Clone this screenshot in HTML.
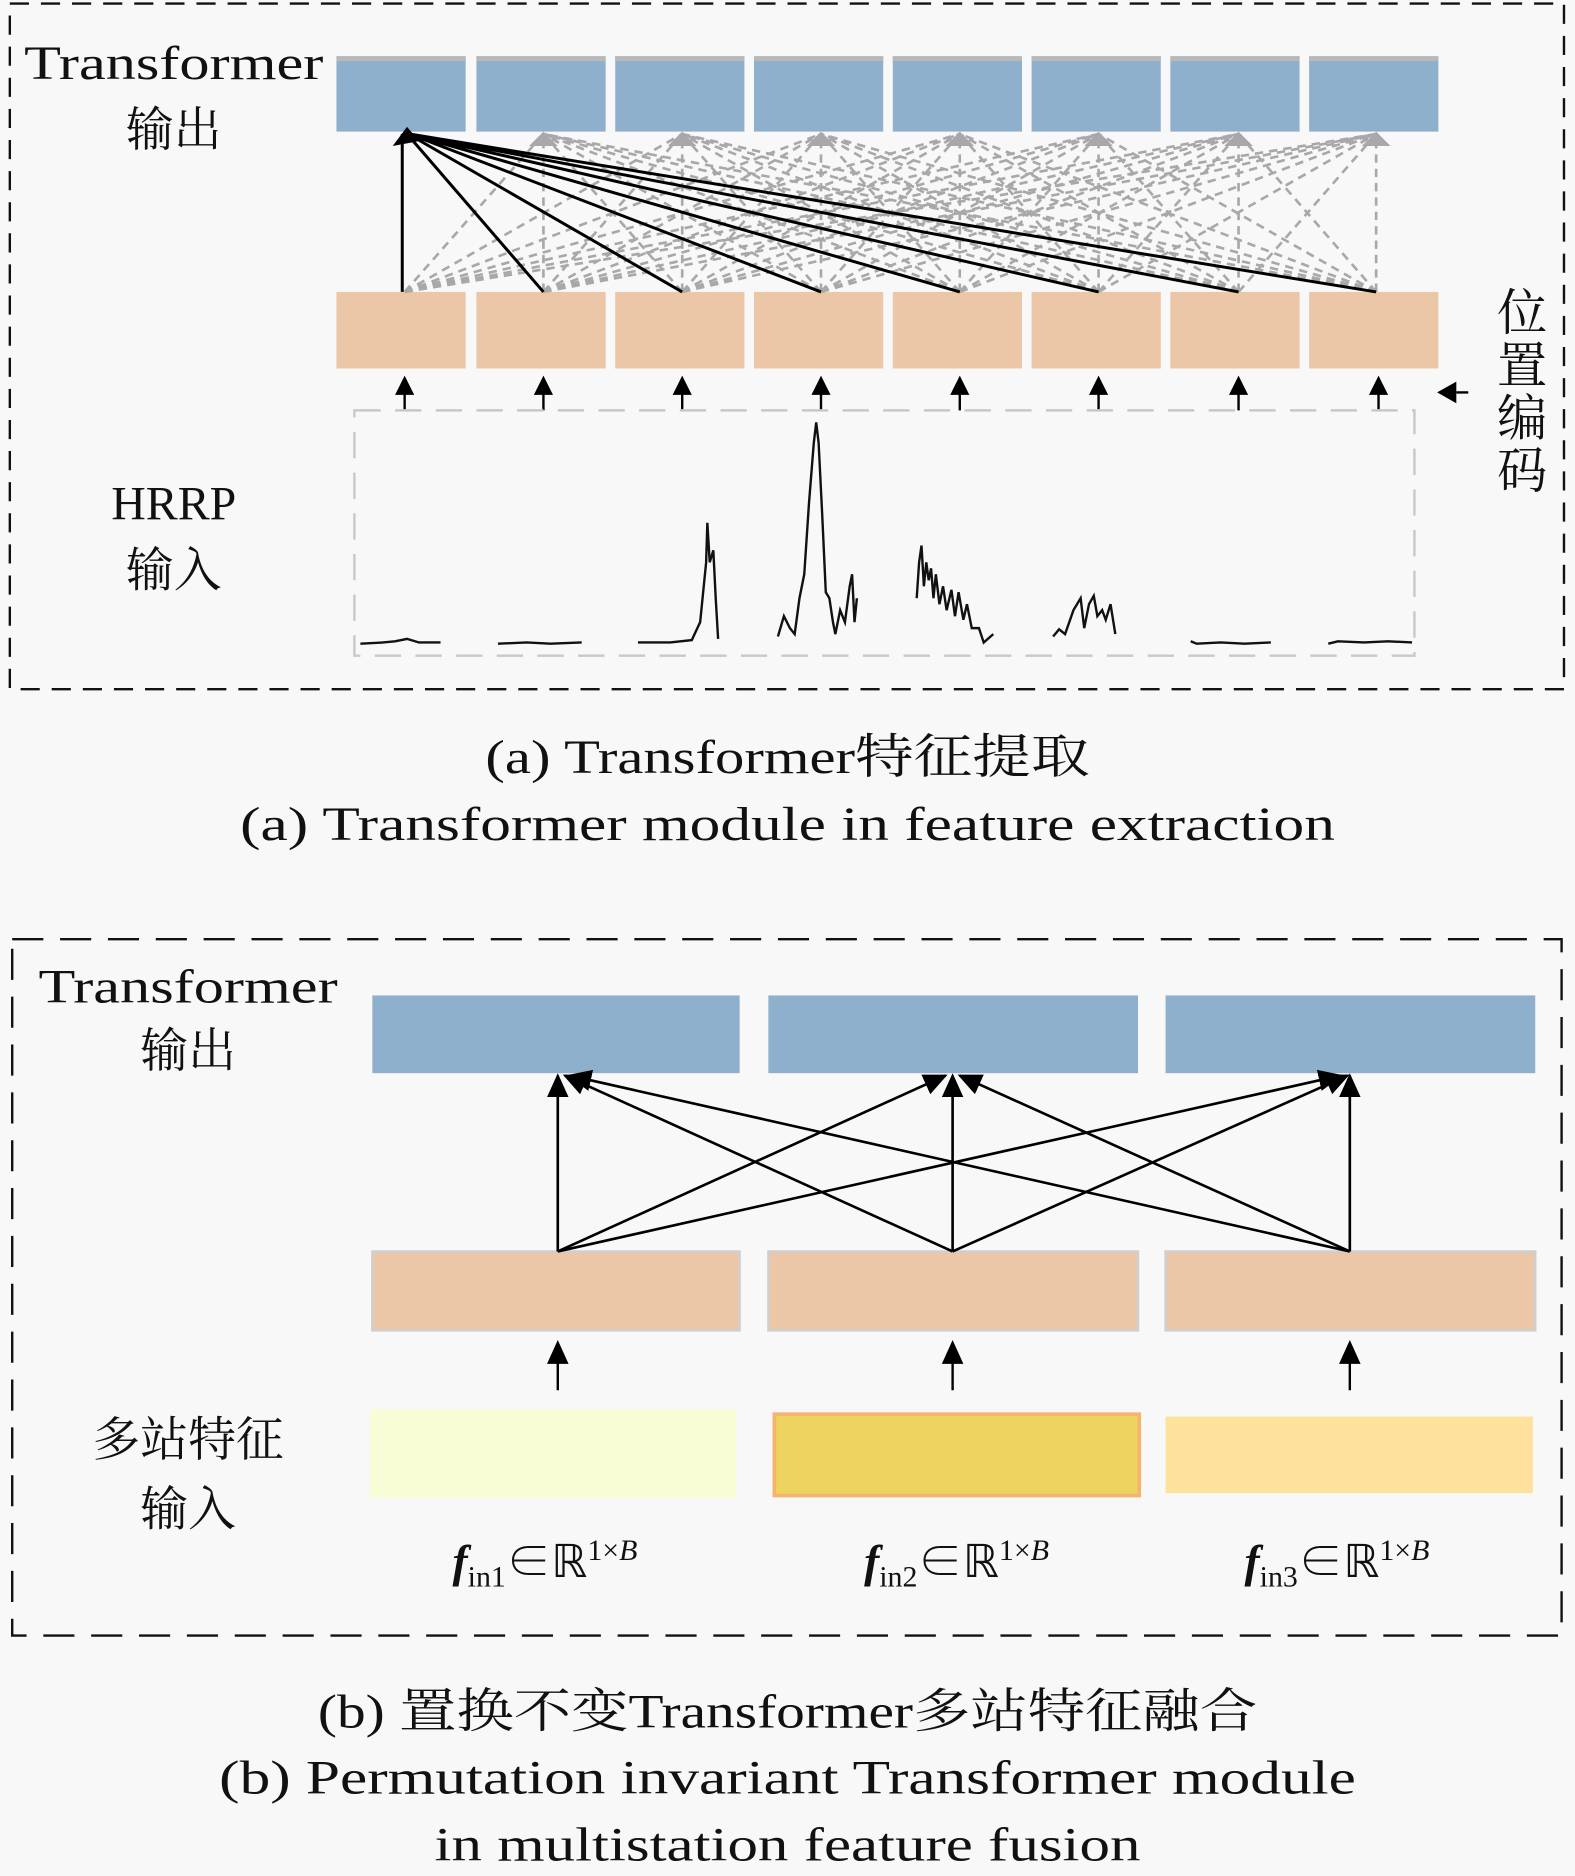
<!DOCTYPE html>
<html><head><meta charset="utf-8"><style>
html,body{margin:0;padding:0;background:#f8f8f8}
svg{display:block}
text{font-family:"Liberation Serif","Noto Serif CJK SC","Noto Sans CJK SC",serif;fill:#111}
</style></head><body>
<svg width="1575" height="1876" viewBox="0 0 1316 1568" xmlns="http://www.w3.org/2000/svg">
<defs>
<marker id="ab2" markerWidth="20" markerHeight="18" refX="18" refY="9" orient="auto" markerUnits="userSpaceOnUse"><path d="M0,0 L20,9 L0,18z" fill="#000"/></marker>
</defs>
<rect width="1316" height="1568" fill="#f8f8f8"/>
<!-- Panel a -->
<rect x="8" y="3" width="1299" height="573" fill="none" stroke="#111" stroke-width="2" stroke-dasharray="16,10"/>
<g fill="#8fb0cd">
<rect x="281" y="47" width="108" height="63"/><rect x="398" y="47" width="108" height="63"/><rect x="514" y="47" width="108" height="63"/><rect x="630" y="47" width="108" height="63"/><rect x="746" y="47" width="108" height="63"/><rect x="862" y="47" width="108" height="63"/><rect x="978" y="47" width="108" height="63"/><rect x="1094" y="47" width="108" height="63"/>
</g>
<g fill="#b8b8b8">
<rect x="281" y="47" width="108" height="4"/><rect x="398" y="47" width="108" height="4"/><rect x="514" y="47" width="108" height="4"/><rect x="630" y="47" width="108" height="4"/><rect x="746" y="47" width="108" height="4"/><rect x="862" y="47" width="108" height="4"/><rect x="978" y="47" width="108" height="4"/><rect x="1094" y="47" width="108" height="4"/>
</g>
<g fill="#ebc7a7">
<rect x="281" y="244" width="108" height="64"/><rect x="398" y="244" width="108" height="64"/><rect x="514" y="244" width="108" height="64"/><rect x="630" y="244" width="108" height="64"/><rect x="746" y="244" width="108" height="64"/><rect x="862" y="244" width="108" height="64"/><rect x="978" y="244" width="108" height="64"/><rect x="1094" y="244" width="108" height="64"/>
</g>
<g stroke="#a8a8a8" stroke-width="2.2" stroke-dasharray="7,5" fill="none">
<path d="M338,244L454,112M338,244L570,112M338,244L686,112M338,244L802,112M338,244L918,112M338,244L1035,112M338,244L1150,112"/>
<path d="M454,244L454,112M454,244L570,112M454,244L686,112M454,244L802,112M454,244L918,112M454,244L1035,112M454,244L1150,112"/>
<path d="M570,244L454,112M570,244L570,112M570,244L686,112M570,244L802,112M570,244L918,112M570,244L1035,112M570,244L1150,112"/>
<path d="M686,244L454,112M686,244L570,112M686,244L686,112M686,244L802,112M686,244L918,112M686,244L1035,112M686,244L1150,112"/>
<path d="M802,244L454,112M802,244L570,112M802,244L686,112M802,244L802,112M802,244L918,112M802,244L1035,112M802,244L1150,112"/>
<path d="M918,244L454,112M918,244L570,112M918,244L686,112M918,244L802,112M918,244L918,112M918,244L1035,112M918,244L1150,112"/>
<path d="M1035,244L454,112M1035,244L570,112M1035,244L686,112M1035,244L802,112M1035,244L918,112M1035,244L1035,112M1035,244L1150,112"/>
<path d="M1150,244L454,112M1150,244L570,112M1150,244L686,112M1150,244L802,112M1150,244L918,112M1150,244L1035,112M1150,244L1150,112"/>
</g>
<g fill="#a8a8a8">
<path d="M454,110l-12,12h24z"/><path d="M570,110l-12,12h24z"/><path d="M686,110l-12,12h24z"/><path d="M802,110l-12,12h24z"/><path d="M918,110l-12,12h24z"/><path d="M1035,110l-12,12h24z"/><path d="M1150,110l-12,12h24z"/>
</g>
<g stroke="#000" stroke-width="2.5" fill="none">
<path d="M336,244L336,112M454,244L340,112M570,244L341,112M686,244L342,112M802,244L342,112M918,244L342,112M1035,244L342,112M1150,244L342,112"/>
</g>
<path d="M328,122L340,106L350,118z" fill="#000"/>
<g stroke="#000" stroke-width="2">
<path d="M338,343V320M454,343V320M570,343V320M686,343V320M802,343V320M918,343V320M1035,343V320M1152,343V320"/>
</g>
<g fill="#000">
<path d="M338,314l-8,16h16z"/><path d="M454,314l-8,16h16z"/><path d="M570,314l-8,16h16z"/><path d="M686,314l-8,16h16z"/><path d="M802,314l-8,16h16z"/><path d="M918,314l-8,16h16z"/><path d="M1035,314l-8,16h16z"/><path d="M1152,314l-8,16h16z"/>
<path d="M1201,328l16,-9v18z"/>
</g>
<path d="M1217,328h10" stroke="#000" stroke-width="2"/>
<rect x="296" y="343" width="886" height="205" fill="none" stroke="#c8c8c8" stroke-width="2" stroke-dasharray="22,12"/>
<g fill="none" stroke="#111" stroke-width="2">
<path d="M301,538L320,537L330,536L340,534L350,537L368,537"/>
<path d="M416,538L440,537L460,538L486,537"/>
<path d="M533,537L560,537L578,535L585,520L590,470L591,437L593,470L596,460L598,500L600,534"/>
<path d="M650,532L655,515L660,525L664,530L668,500L672,480L676,420L680,370L682,353L684,370L687,430L690,495L693,500L696,520L698,530L702,510L706,520L710,490L712,480L714,520L716,500"/>
<path d="M766,500L768,470L770,456L772,490L774,470L776,485L778,475L780,500L782,480L785,505L788,490L791,510L795,493L798,515L801,495L805,518L808,505L812,525L818,525L822,537L830,530"/>
<path d="M880,532L885,526L890,530L897,510L903,500L906,525L910,505L914,498L917,515L921,510L924,518L928,505L932,530"/>
<path d="M995,536L1000,538L1020,537L1040,538L1062,537"/>
<path d="M1110,538L1118,536L1140,537L1160,536L1180,537"/>
</g>
<text x="145" y="66" font-size="40" text-anchor="middle" textLength="250" lengthAdjust="spacingAndGlyphs">Transformer</text>
<text x="145" y="122" font-size="40" text-anchor="middle">输出</text>
<text x="145" y="434" font-size="40" text-anchor="middle">HRRP</text>
<text x="145" y="490" font-size="40" text-anchor="middle">输入</text>
<g font-size="42" text-anchor="middle"><text x="1272" y="276">位</text><text x="1272" y="320">置</text><text x="1272" y="364">编</text><text x="1272" y="408">码</text></g>
<text x="658" y="646" font-size="40" text-anchor="middle" textLength="505" lengthAdjust="spacingAndGlyphs">(a) Transformer特征提取</text>
<text x="658" y="702" font-size="40" text-anchor="middle" textLength="915" lengthAdjust="spacingAndGlyphs">(a) Transformer module in feature extraction</text>
<!-- Panel b -->
<rect x="10" y="785" width="1295" height="582" fill="none" stroke="#111" stroke-width="2" stroke-dasharray="26,14"/>
<g fill="#8fb0cd"><rect x="311" y="832" width="307" height="65"/><rect x="642" y="832" width="309" height="65"/><rect x="974" y="832" width="309" height="65"/></g>
<g fill="#ebc7a7" stroke="#cfcfcf" stroke-width="2"><rect x="311" y="1046" width="307" height="66"/><rect x="642" y="1046" width="309" height="66"/><rect x="974" y="1046" width="309" height="66"/></g>
<g stroke="#000" stroke-width="2.2" fill="none" marker-end="url(#ab2)">
<path d="M466,1046L466,899"/><path d="M466,1046L790,899"/><path d="M466,1046L1120,899"/>
<path d="M796,1046L472,899"/><path d="M796,1046L796,899"/><path d="M796,1046L1126,899"/>
<path d="M1128,1046L476,899"/><path d="M1128,1046L802,899"/><path d="M1128,1046L1128,899"/>
</g>
<g stroke="#000" stroke-width="2"><path d="M466,1162V1136M796,1162V1136M1128,1162V1136"/></g>
<g fill="#000"><path d="M466,1120l-9,20h18z"/><path d="M796,1120l-9,20h18z"/><path d="M1128,1120l-9,20h18z"/></g>
<rect x="309" y="1178" width="306" height="74" fill="#f8fdd5"/>
<rect x="647" y="1182" width="305" height="68" fill="#edd35f" stroke="#f6b36e" stroke-width="3"/>
<rect x="974" y="1184" width="307" height="64" fill="#fde19c"/>
<text x="157" y="838" font-size="40" text-anchor="middle" textLength="250" lengthAdjust="spacingAndGlyphs">Transformer</text>
<text x="157" y="892" font-size="40" text-anchor="middle">输出</text>
<text x="157" y="1217" font-size="40" text-anchor="middle">多站特征</text>
<text x="157" y="1275" font-size="40" text-anchor="middle">输入</text>
<g font-size="38">
<text x="378" y="1318"><tspan font-style="italic" font-weight="bold">f</tspan><tspan font-size="25" dy="8">in1</tspan><tspan dy="-8">∈ℝ</tspan><tspan font-size="25" dy="-14">1×<tspan font-style="italic">B</tspan></tspan></text>
<text x="722" y="1318"><tspan font-style="italic" font-weight="bold">f</tspan><tspan font-size="25" dy="8">in2</tspan><tspan dy="-8">∈ℝ</tspan><tspan font-size="25" dy="-14">1×<tspan font-style="italic">B</tspan></tspan></text>
<text x="1040" y="1318"><tspan font-style="italic" font-weight="bold">f</tspan><tspan font-size="25" dy="8">in3</tspan><tspan dy="-8">∈ℝ</tspan><tspan font-size="25" dy="-14">1×<tspan font-style="italic">B</tspan></tspan></text>
</g>
<text x="658" y="1444" font-size="40" text-anchor="middle" textLength="785" lengthAdjust="spacingAndGlyphs">(b) 置换不变Transformer多站特征融合</text>
<text x="658" y="1499" font-size="40" text-anchor="middle" textLength="950" lengthAdjust="spacingAndGlyphs">(b) Permutation invariant Transformer module</text>
<text x="658" y="1555" font-size="40" text-anchor="middle" textLength="590" lengthAdjust="spacingAndGlyphs">in multistation feature fusion</text>
</svg>
</body></html>
